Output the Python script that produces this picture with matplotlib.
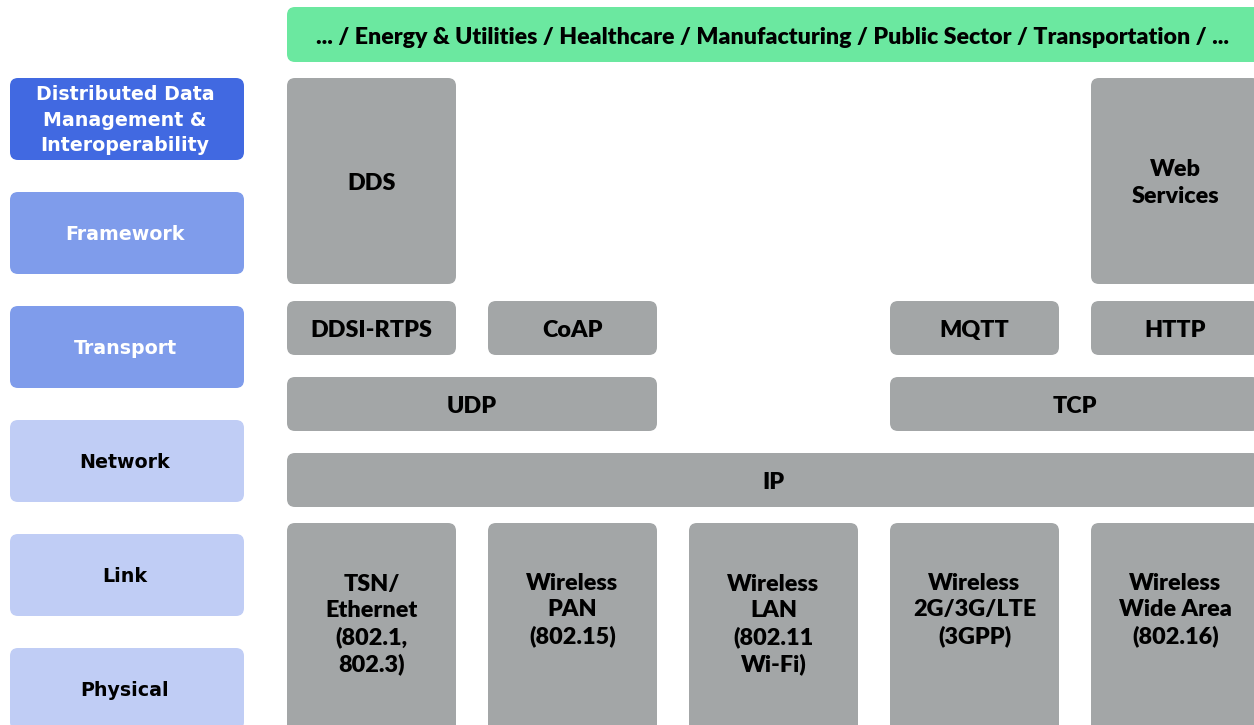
import matplotlib.pyplot as plt
from matplotlib.patches import FancyBboxPatch

# layer labels on the left
layers = ["Distributed Data\nManagement &\nInteroperability", "Framework", "Transport",
          "Network", "Link", "Physical"]
layer_colors = ["#4169e1", "#7f9ceb", "#7f9ceb", "#c0cdf5", "#c0cdf5", "#c0cdf5"]
layer_text = ["white", "white", "white", "black", "black", "black"]

industries = "... / Energy & Utilities / Healthcare / Manufacturing / Public Sector / Transportation / ..."

# protocol boxes: label, first column, number of columns, row
protocols = ["DDS", "Web\nServices", "DDSI-RTPS", "CoAP", "MQTT", "HTTP", "UDP", "TCP", "IP",
             "TSN/\nEthernet\n(802.1,\n802.3)", "Wireless\nPAN\n(802.15)", "Wireless\nLAN\n(802.11\nWi-Fi)",
             "Wireless\n2G/3G/LTE\n(3GPP)", "Wireless\nWide Area\n(802.16)"]
proto_col = [0, 4, 0, 1, 3, 4, 0, 3, 0, 0, 1, 2, 3, 4]
proto_span = [1, 1, 1, 1, 1, 1, 2, 2, 5, 1, 1, 1, 1, 1]
proto_row = ["fw", "fw", "tr", "tr", "tr", "tr", "udp", "udp", "ip", "link", "link", "link", "link", "link"]

# layout in pixels
W, H = 1254, 725
rows = {"fw": (78, 284), "tr": (301, 355), "udp": (377, 431), "ip": (453, 507), "link": (523, 760)}
x0, pitch, cw = 287, 201, 169
gray = "#a3a6a7"

fig = plt.figure(figsize=(W / 100, H / 100), dpi=100)
ax = fig.add_axes([0, 0, 1, 1])
ax.set_xlim(0, W)
ax.set_ylim(H, 0)
ax.axis("off")


def box(x, y, w, h, color):
    ax.add_patch(FancyBboxPatch((x, y), w, h, boxstyle="round,pad=0,rounding_size=8",
                                fc=color, ec="none"))


# left column
for i, name in enumerate(layers):
    y = 78 + i * 114
    box(10, y, 234, 82, layer_colors[i])
    ax.text(125, y + 42, name, ha="center", va="center", color=layer_text[i],
            fontsize=13.7, fontweight="bold", family="DejaVu Sans", linespacing=1.42)

# industries bar
box(287, 7, 980, 55, "#6be8a0")
ax.text(773, 37, industries, ha="center", va="center", fontsize=16.7,
        fontweight="heavy", family="Lato")

for lab, c, s, r in zip(protocols, proto_col, proto_span, proto_row):
    y1, y2 = rows[r]
    x = x0 + c * pitch
    w = cw + (s - 1) * pitch
    box(x, y1, w, y2 - y1, gray)
    if r == "link":
        ty = 582 + lab.count("\n") * 14.25
    else:
        ty = (y1 + y2) / 2 + 2
    ax.text(x + w / 2, ty, lab, ha="center", va="center", fontsize=16.8,
            fontweight="heavy", family="Lato", linespacing=1.3)

fig.savefig("out.png", dpi=100)
